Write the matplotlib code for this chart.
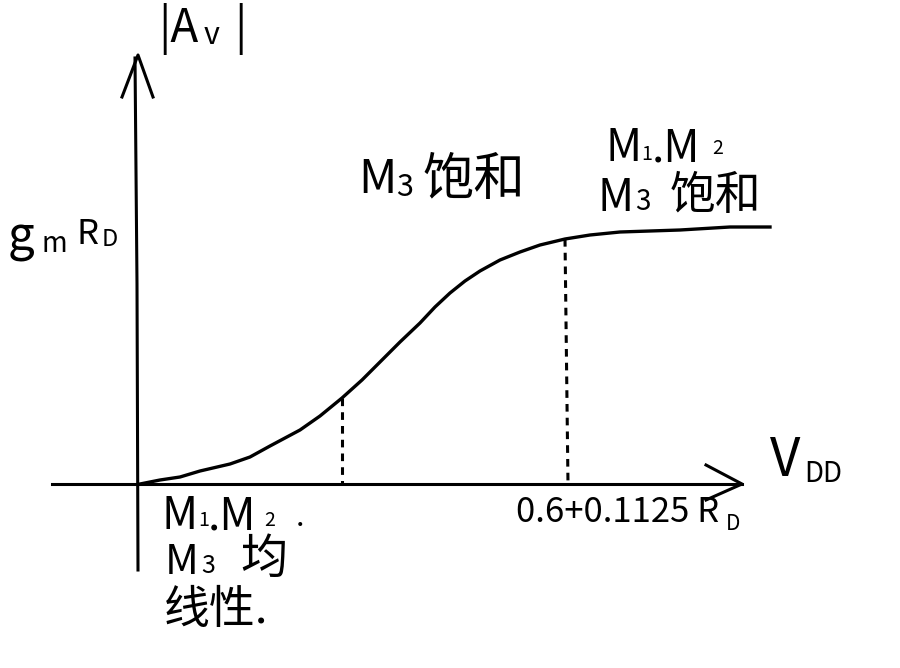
# -*- coding: utf-8 -*-
from matplotlib import pyplot as plt

plt.rcParams['font.family'] = ['Noto Sans CJK SC', 'DejaVu Sans']

"""values read off the sketch"""
vdd = [0, 20, 40, 60, 90, 110, 130, 160, 180, 202, 222, 240, 260, 280, 295, 310,
       325, 340, 360, 380, 400, 425, 450, 480, 510, 540, 590, 630]
av = [0, 4, 7, 13, 20, 27, 38, 54, 68, 86, 104, 122, 142, 161, 177, 191,
      203, 213, 224, 232, 239, 245, 249, 252, 253, 254, 257, 257]
mark_vdd = [202, 425]
mark_av = [86, 245]
mark_end = [202, 428]

labels = ['|A', 'v', '|', 'g', 'm', 'R', 'D', 'V', 'DD', 'M', '3', '饱和',
          'M', '1', '.M', '2', 'M', '3', '饱和',
          'M', '1', '.M', '2', '.', 'M', '3', '均', '线性.', '0.6+0.1125 R', 'D']
label_x = [18, 64, 94, -132, -98, -64, -38, 630, 664, 218, 256, 282,
           465, 501, 512, 572, 457, 495, 530,
           22, 58, 68, 124, 156, 25, 61, 100, 24, 376, 586]
label_y = [455, 448, 455, 246, 240, 250, 244, 24, 10, 304, 296, 304,
           336, 330, 336, 336, 286, 282, 288,
           -32, -36, -32, -36, -34, -78, -82, -76, -126, -28, -40]
label_size = [33, 22, 33, 34, 20, 25, 17, 38, 20, 34, 22, 37,
              32, 14, 32, 14, 32, 20, 33,
              32, 14, 32, 14, 22, 30, 18, 34, 33, 25, 15]

fig = plt.figure(figsize=(9, 6.68), dpi=100)
ax = fig.add_axes([0, 0, 1, 1])
ax.set_xlim(-140, 760)
ax.set_ylim(-184, 484)
ax.axis('off')

"""axes drawn by hand, with open arrow heads"""
ax.plot([-2, -3, -5], [-86, 200, 426], color='black', lw=2.2)
ax.plot([-18, -2, 13], [387, 429, 387], color='black', lw=2.2)
ax.plot([-88, 602], [0, 0], color='black', lw=2.2)
ax.plot([566, 602, 566], [19, 0, -16], color='black', lw=2.2)

"""gain curve and the two dashed guides"""
ax.plot(vdd, av, color='black', lw=2.4, solid_joinstyle='round')
ax.plot([mark_vdd[0], mark_end[0]], [mark_av[0], 0], color='black', lw=2.2, ls=(0, (2.5, 2)))
ax.plot([mark_vdd[1], mark_end[1]], [mark_av[1], 0], color='black', lw=2.2, ls=(0, (2.5, 2)))

for s, x, y, size in zip(labels, label_x, label_y, label_size):
    ax.text(x, y, s, fontsize=size, ha='left', va='center', color='black')

fig.savefig('out.png', dpi=100, facecolor='white')
